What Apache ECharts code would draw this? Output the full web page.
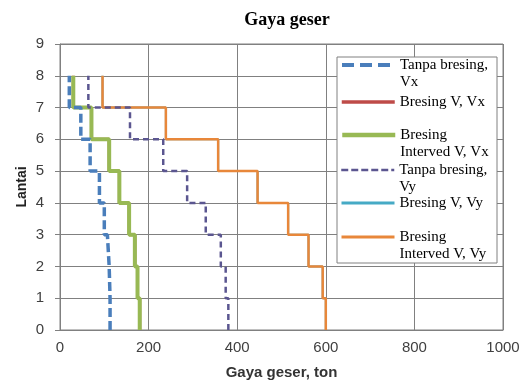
<!DOCTYPE html>
<html><head><meta charset="utf-8">
<script src="https://cdn.jsdelivr.net/npm/echarts@6/dist/echarts.min.js"></script>
<style>html,body{margin:0;padding:0;background:#fff}#c{width:531px;height:387px}</style>
</head><body><div id="c"></div>
<script>
// Floors (lantai) boundaries and shear force per storey segment (floor k to k+1), in ton
const floors = [0, 1, 2, 3, 4, 5, 6, 7, 8];
const xTicks = [0, 200, 400, 600, 800, 1000];
const yTicks = [0, 1, 2, 3, 4, 5, 6, 7, 8, 9];
const tanpaVx = [113, 111, 107, 100, 89, 68, 47, 21];
const bresingVx = [180, 175, 169, 156, 134, 111, 71, 30];
const intervedVx = [180, 175, 169, 156, 134, 111, 71, 30];
const tanpaVy = [380, 374, 363, 329, 287, 233, 158, 64];
const bresingVy = [600, 593, 561, 515, 446, 357, 239, 96];
const intervedVy = [600, 593, 561, 515, 446, 357, 239, 96];
const seriesNames = ['Tanpa bresing, Vx', 'Bresing V, Vx', 'Bresing Interved V, Vx', 'Tanpa bresing, Vy', 'Bresing V, Vy', 'Bresing Interved V, Vy'];
const legendLabels = ['Tanpa bresing,\nVx', 'Bresing V, Vx', 'Bresing\nInterved V, Vx', 'Tanpa bresing,\nVy', 'Bresing V, Vy', 'Bresing\nInterved V, Vy'];

function steps(vals) {
  const pts = [];
  vals.forEach((v, k) => { pts.push([v, floors[k]]); pts.push([v, floors[k + 1]]); });
  return pts;
}
const chart = echarts.init(document.getElementById('c'), null, {renderer: 'canvas'});
const styles = [
  {color: '#4A7EBB', width: 3.5, type: [9, 4], lw: 4, ltype: [12, 6], data: tanpaVx, z: 4},
  {color: '#BE4B48', width: 3, type: 'solid', lw: 3.5, ltype: 'solid', data: bresingVx, z: 2},
  {color: '#98B954', width: 4, type: 'solid', lw: 4.5, ltype: 'solid', data: intervedVx, z: 3},
  {color: '#5B5690', width: 2.5, type: [6, 4], lw: 2.5, ltype: [7, 3], data: tanpaVy, z: 4},
  {color: '#46AAC5', width: 2, type: 'solid', lw: 3, ltype: 'solid', data: bresingVy, z: 2},
  {color: '#E8873A', width: 2.5, type: 'solid', lw: 3, ltype: 'solid', data: intervedVy, z: 3}
];
const series = styles.map((s, i) => ({
  name: seriesNames[i], type: 'line', symbol: 'none', showSymbol: false, z: s.z, animation: false,
  data: steps(s.data), color: s.color,
  lineStyle: {color: s.color, width: s.width, type: s.type, cap: 'butt'}
}));
const iconY = [65, 102, 135, 170, 203, 237];
const LH = 17;
const legends = seriesNames.map((n, i) => {
  const two = legendLabels[i].indexOf('\n') >= 0;
  return {
    data: [n], left: 340, top: two ? iconY[i] - 1.5 * LH : iconY[i] - LH / 2,
    padding: 0, itemWidth: 53, itemHeight: 12, z: 6,
    itemStyle: {opacity: 0, borderWidth: 0},
    lineStyle: {width: styles[i].lw, type: styles[i].ltype, color: styles[i].color, cap: 'butt'},
    formatter: () => (two ? '\u00a0\n' : '') + legendLabels[i], selectedMode: false,
    textStyle: {fontFamily: 'Liberation Serif', fontSize: 15, lineHeight: LH, color: '#000'}
  };
});
chart.setOption({
  animation: false,
  backgroundColor: '#fff',
  title: {text: 'Gaya geser', left: 282, textAlign: 'center', top: 6,
    textStyle: {fontFamily: 'Liberation Serif', fontWeight: 'bold', fontSize: 18, color: '#000'}},
  grid: {left: 60, right: 28, top: 44, bottom: 57, show: true, borderColor: '#808080', borderWidth: 1},
  legend: legends,
  graphic: [{type: 'rect', shape: {x: 337, y: 57, width: 160, height: 206}, z: 5,
    style: {fill: '#fff', stroke: '#808080', lineWidth: 1}}],
  xAxis: {type: 'value', min: xTicks[0], max: xTicks[xTicks.length - 1], interval: 200,
    name: 'Gaya geser, ton', nameLocation: 'middle', nameGap: 35,
    nameTextStyle: {fontFamily: 'Liberation Sans', fontWeight: 'bold', fontSize: 15, color: '#333'},
    axisLine: {show: true, lineStyle: {color: '#808080'}}, axisTick: {show: false},
    axisLabel: {fontFamily: 'Liberation Sans', fontSize: 15, color: '#404040', margin: 10,
      formatter: v => String(v)},
    splitLine: {show: true, lineStyle: {color: '#808080', width: 1}}},
  yAxis: {type: 'value', min: yTicks[0], max: yTicks[yTicks.length - 1], interval: 1,
    name: 'Lantai', nameLocation: 'middle', nameGap: 31, nameRotate: 90, nameMoveOverlap: false,
    nameTextStyle: {fontFamily: 'Liberation Sans', fontWeight: 'bold', fontSize: 14, color: '#222'},
    axisLine: {show: true, lineStyle: {color: '#808080'}},
    axisTick: {show: true, length: 5, lineStyle: {color: '#808080'}},
    axisLabel: {fontFamily: 'Liberation Sans', fontSize: 15, color: '#404040', margin: 16},
    splitLine: {show: true, lineStyle: {color: '#808080', width: 1}}},
  series: series
});
</script></body></html>
